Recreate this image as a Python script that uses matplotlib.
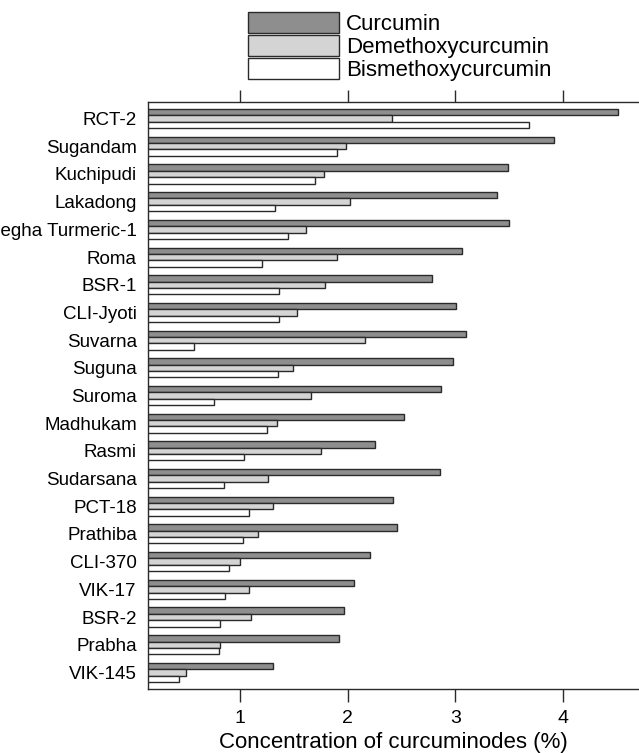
import matplotlib
matplotlib.use("Agg")
import matplotlib.pyplot as plt
import numpy as np

cultivars = ["RCT-2", "Sugandam", "Kuchipudi", "Lakadong", "Megha Turmeric-1",
             "Roma", "BSR-1", "CLI-Jyoti", "Suvarna", "Suguna", "Suroma",
             "Madhukam", "Rasmi", "Sudarsana", "PCT-18", "Prathiba", "CLI-370",
             "VIK-17", "BSR-2", "Prabha", "VIK-145"]
curcumin = [4.51, 3.92, 3.49, 3.39, 3.50, 3.06, 2.78, 3.01, 3.10, 2.98, 2.87,
            2.52, 2.25, 2.86, 2.42, 2.46, 2.21, 2.06, 1.96, 1.92, 1.30]
demethoxy = [2.41, 1.98, 1.78, 2.02, 1.61, 1.90, 1.79, 1.53, 2.16, 1.49, 1.66,
             1.34, 1.75, 1.26, 1.30, 1.16, 1.00, 1.08, 1.10, 0.81, 0.49]
bismethoxy = [3.69, 1.90, 1.69, 1.32, 1.44, 1.20, 1.36, 1.36, 0.57, 1.35, 0.75,
              1.25, 1.03, 0.85, 1.08, 1.02, 0.89, 0.86, 0.81, 0.80, 0.43]
series_names = ["Curcumin", "Demethoxycurcumin", "Bismethoxycurcumin"]
xticks = [1, 2, 3, 4]
xlabel = "Concentration of curcuminodes (%)"

regular = ["Liberation Sans", "DejaVu Sans"]

fig = plt.figure(figsize=(6.39, 7.53), dpi=100)
ax = fig.add_axes([148/639, 1-689/753, (639-148)/639, (689-102)/753])

y = np.arange(len(cultivars))
h = 0.23
ec = "#2a2a2a"
lw = 1.0
b1 = ax.barh(y - h, curcumin, height=h, left=0, color="#8e8e8e", edgecolor=ec, linewidth=lw, label=series_names[0])
b2 = ax.barh(y, demethoxy, height=h, left=0, color="#d4d4d4", edgecolor=ec, linewidth=lw, label=series_names[1])
b3 = ax.barh(y + h, bismethoxy, height=h, left=0, color="white", edgecolor=ec, linewidth=lw, label=series_names[2])

ax.set_xlim(0.14, 4.71)
ax.set_ylim(20.6, -0.6)
ax.set_yticks(y)
ax.set_yticklabels(cultivars, family=regular, fontsize=13.5)
ax.tick_params(axis="y", length=0, pad=8)
ax.set_xticks(xticks)
ax.set_xticklabels([str(t) for t in xticks], family=regular, fontsize=14)
ax.tick_params(axis="x", direction="out", length=9, width=1.0, color=ec, pad=6,
               top=True, labeltop=False, bottom=True)
ax.set_xlabel(xlabel, family=regular, fontsize=16, labelpad=4)
for s in ["left", "top", "bottom"]:
    ax.spines[s].set_linewidth(1.0)
    ax.spines[s].set_color(ec)
ax.spines["right"].set_visible(False)

leg = fig.legend(handles=[b1, b2, b3], labels=series_names, loc="upper left",
                 bbox_to_anchor=(248/639, 1-12/753), frameon=False,
                 prop={"family": regular, "size": 16},
                 handlelength=4.1, handleheight=1.1, labelspacing=-0.02,
                 handletextpad=0.3, borderpad=0, borderaxespad=0)

fig.savefig("out.png", dpi=100)
